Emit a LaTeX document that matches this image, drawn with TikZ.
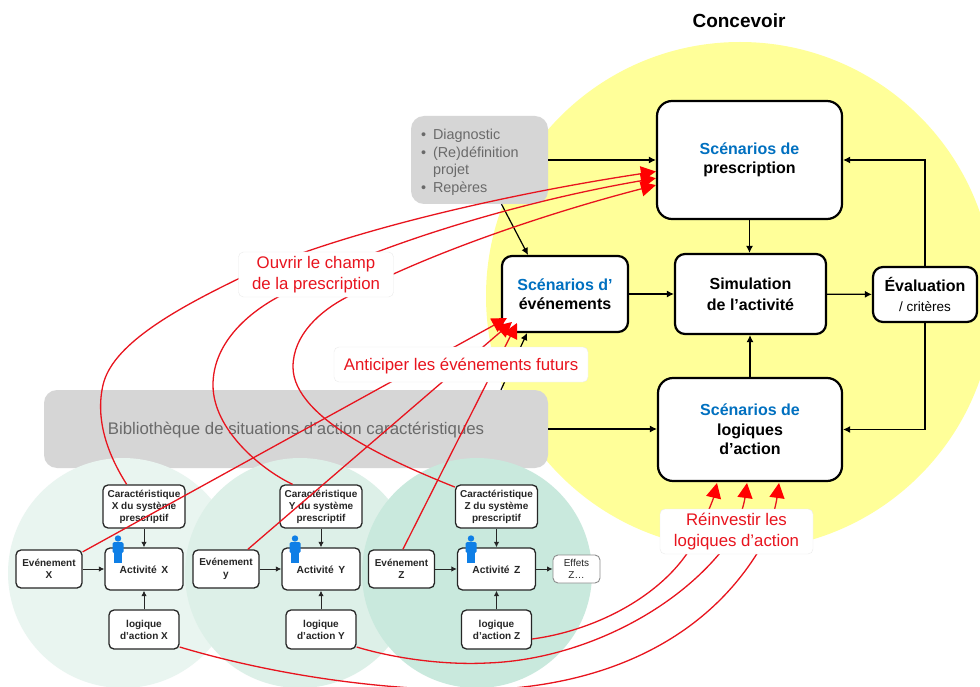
\documentclass[tikz,border=0pt]{standalone}
\usepackage{fontspec}
\setmainfont{Liberation Sans}
\usetikzlibrary{arrows.meta,calc}
\definecolor{yel}{HTML}{FFFF99}
\definecolor{grayb}{HTML}{D6D6D6}
\definecolor{grayt}{HTML}{6A6A6A}
\definecolor{blu}{HTML}{0070C0}
\definecolor{redl}{HTML}{E8141E}
\definecolor{gx}{HTML}{E9F5F0}
\definecolor{gy}{HTML}{DDF0E8}
\definecolor{gz}{HTML}{C9E9DD}
\definecolor{pers}{HTML}{0F7FE6}
\definecolor{dk}{HTML}{262626}
\tikzset{
  x=1pt,y=-1pt,
  big/.style={draw=black,fill=white,line width=2.2pt,rounded corners=15pt,align=center,inner sep=0pt,font=\fontsize{16}{19.5}\selectfont\bfseries,execute at begin node=\leavevmode\rule{0pt}{15pt}},
  mid/.style={big,rounded corners=10pt},
  small/.style={draw=dk,fill=white,line width=1.3pt,rounded corners=5pt,align=center,inner sep=0pt,text=dk,font=\fontsize{10}{12}\selectfont\bfseries,execute at begin node=\leavevmode\rule{0pt}{9.5pt}},
  act/.style={small,font=\fontsize{10.3}{12}\selectfont\bfseries},
  lab/.style={draw=black!8,fill=white,rounded corners=5pt,align=center,inner sep=0pt,text=redl,font=\fontsize{16.8}{20.5}\selectfont,execute at begin node=\leavevmode\rule{0pt}{15.5pt}},
  arr/.style={-{Latex[length=7pt,width=7pt]},line width=1.2pt,black},
  sarr/.style={-{Latex[length=5.5pt,width=5.5pt]},line width=1pt,dk},
  redc/.style={redl,line width=1.3pt},
  reda/.style={redc,-{Triangle[length=15pt,width=15pt,color=red,fill=red]}},
  circ/.style={circle,inner sep=0pt,minimum size=230pt},
}
\newcommand{\persfig}[1]{%
  \fill[pers] (#1,538.5) circle (3.2);
  \fill[pers,rounded corners=1.5pt] ($(#1,542)+(-5.5,0)$) rectangle ($(#1,542)+(5.5,11)$);
  \fill[pers] ($(#1,552)+(-4,0)$) rectangle ($(#1,552)+(4,11)$);
}
\begin{document}
\begin{tikzpicture}
\useasboundingbox (0,0) rectangle (980,687);
\clip (0,0) rectangle (980,687);
\fill[white] (0,0) rectangle (980,687);
\node[circle,fill=yel,inner sep=0pt,minimum size=508pt] (yellow) at (740,296) {};
\node[font=\fontsize{19}{22}\selectfont\bfseries] (conc) at (739,21) {Concevoir};
% grey boxes
\node[fill=grayb,rounded corners=13pt,minimum width=504pt,minimum height=78pt,inner sep=0pt,text=grayt,font=\fontsize{16.8}{20}\selectfont,execute at begin node=\leavevmode\rule{0pt}{15pt}] (biblio) at (296,429) {Bibliothèque de situations d’action caractéristiques};
\node[fill=grayb,rounded corners=13pt,minimum width=137pt,minimum height=88pt,text width=117pt,inner sep=0pt,align=left,text=grayt,font=\fontsize{14.4}{17.4}\selectfont,execute at begin node=\leavevmode\rule{0pt}{15pt}] (diag) at (479.5,160) {\makebox[12pt][l]{•}Diagnostic\\\makebox[12pt][l]{•}(Re)définition\\\makebox[12pt][l]{}projet\\\makebox[12pt][l]{•}Repères};
% circles
\node[circ,fill=gx] (cx) at (123,573) {};
\node[circ,fill=gy] (cy) at (300,573) {};
\node[circ,fill=gz] (cz) at (477,573) {};
% big boxes
\node[big,minimum width=185pt,minimum height=118pt] (prescr) at (749.5,160) {\textcolor{blu}{Scénarios de}\\prescription};
\node[mid,minimum width=126pt,minimum height=76pt] (even) at (565,294) {\textcolor{blu}{Scénarios d’}\\événements};
\node[mid,minimum width=151pt,minimum height=80pt,font=\fontsize{16}{21}\selectfont\bfseries] (sim) at (750.5,294) {Simulation\\de l’activité};
\node[big,minimum width=184pt,minimum height=103pt] (logq) at (750,429.5) {\textcolor{blu}{Scénarios de}\\logiques\\d’action};
\node[mid,minimum width=104pt,minimum height=55pt] (eval) at (925,294.5) {Évaluation\\{\fontsize{13.5}{16}\selectfont\mdseries / critères}};
% small boxes
\node[small,minimum width=82pt,minimum height=43pt] (carX) at (144,506.5) {Caractéristique\\X du système\\prescriptif};
\node[act,minimum width=78pt,minimum height=42pt] (actX) at (144,569) {Activité\, X};
\node[small,minimum width=66pt,minimum height=38pt] (evtX) at (49,569) {Evénement\\X};
\node[small,minimum width=70pt,minimum height=39pt] (logX) at (144,629.5) {logique\\d’action X};
\node[small,minimum width=82pt,minimum height=43pt] (carY) at (321,506.5) {Caractéristique\\Y du système\\prescriptif};
\node[act,minimum width=78pt,minimum height=42pt] (actY) at (321,569) {Activité\, Y};
\node[small,minimum width=66pt,minimum height=38pt] (evtY) at (226,569) {Evénement\\y};
\node[small,minimum width=70pt,minimum height=39pt] (logY) at (321,629.5) {logique\\d’action Y};
\node[small,minimum width=82pt,minimum height=43pt] (carZ) at (496.5,506.5) {Caractéristique\\Z du système\\prescriptif};
\node[act,minimum width=78pt,minimum height=42pt] (actZ) at (496.5,569) {Activité\, Z};
\node[small,minimum width=66pt,minimum height=38pt] (evtZ) at (401.5,569) {Evénement\\Z};
\node[small,minimum width=70pt,minimum height=39pt] (logZ) at (496.5,629.5) {logique\\d’action Z};
\node[small,draw=black!45,line width=.9pt,minimum width=47pt,minimum height=28pt,font=\fontsize{10}{12}\selectfont] (eff) at (576.5,569) {Effets\\Z…};
% small arrows
\foreach \s in {X,Y,Z}{
  \draw[sarr] (car\s) -- (act\s);
  \draw[sarr] (log\s) -- (act\s);
  \draw[sarr] (evt\s) -- (act\s);
}
\draw[sarr] (actZ) -- (eff);
% persons
\persfig{118}\persfig{295}\persfig{471}
% black arrows
\draw[arr] (diag.east |- prescr.west) -- (prescr.west);
\draw[arr] ($(diag.south)+(22,0)$) -- ($(even.north)+(-37,0)$);
\draw[arr] ($(biblio.north)+(205,0)$) -- ($(even.south)+(-38,0)$);
\draw[arr] (biblio.east) -- (logq.west |- biblio.east);
\draw[arr] (prescr.south) -- (sim.north -| prescr.south);
\draw[arr] (logq.north) -- (sim.south -| logq.north);
\draw[arr] (even) -- (sim);
\draw[arr] (sim) -- (eval);
\draw[arr] (eval.north) |- (prescr.east);
\draw[arr] (eval.south) |- (logq.east);
% red curves: prescription
\draw[reda] (carX.128) .. controls (108,455) and (95,420) .. (103,385) .. controls (112,346) and (170,312) .. (238,279) .. controls (330,235) and (500,195) .. (prescr.187);
\draw[reda] (carY.142) .. controls (262,470) and (213,430) .. (213,385) .. controls (213,345) and (245,315) .. (278,297) .. controls (350,255) and (500,205) .. (prescr.191);
\draw[reda] (carZ.155) .. controls (400,465) and (293,420) .. (293,367) .. controls (293,335) and (320,311) .. (347,297) .. controls (420,257) and (540,215) .. (prescr.195);
% red lines: events
\draw[reda] (evtX.27) -- (507,318);
\draw[reda] (evtY.42) -- (512,322);
\draw[reda] (evtZ.86) -- (517,323);
% red curves: logics
\draw[reda] (logZ.east |- 0,639) .. controls (600,630) and (675,590) .. (700,530) .. controls (708,512) and (713,500) .. (717,483);
\draw[reda] (logY.east |- 0,647) .. controls (400,660) and (450,665) .. (487,663) .. controls (580,660) and (680,610) .. (730,540) .. controls (738,525) and (744,505) .. (747,483);
\draw[reda] (logX.east |- 0,647) .. controls (250,668) and (350,688) .. (460,690) .. controls (600,692) and (710,640) .. (765,540) .. controls (771,525) and (776,505) .. (779,483);
% labels
\node[lab,minimum width=155pt,minimum height=45pt] (ouv) at (316,274.5) {Ouvrir le champ\\de la prescription};
\node[lab,minimum width=254pt,minimum height=35pt] (ant) at (461,364.5) {Anticiper les événements futurs};
\node[lab,minimum width=153pt,minimum height=45pt] (rei) at (736.5,531.5) {Réinvestir les\\logiques d’action};
\end{tikzpicture}
\end{document}
